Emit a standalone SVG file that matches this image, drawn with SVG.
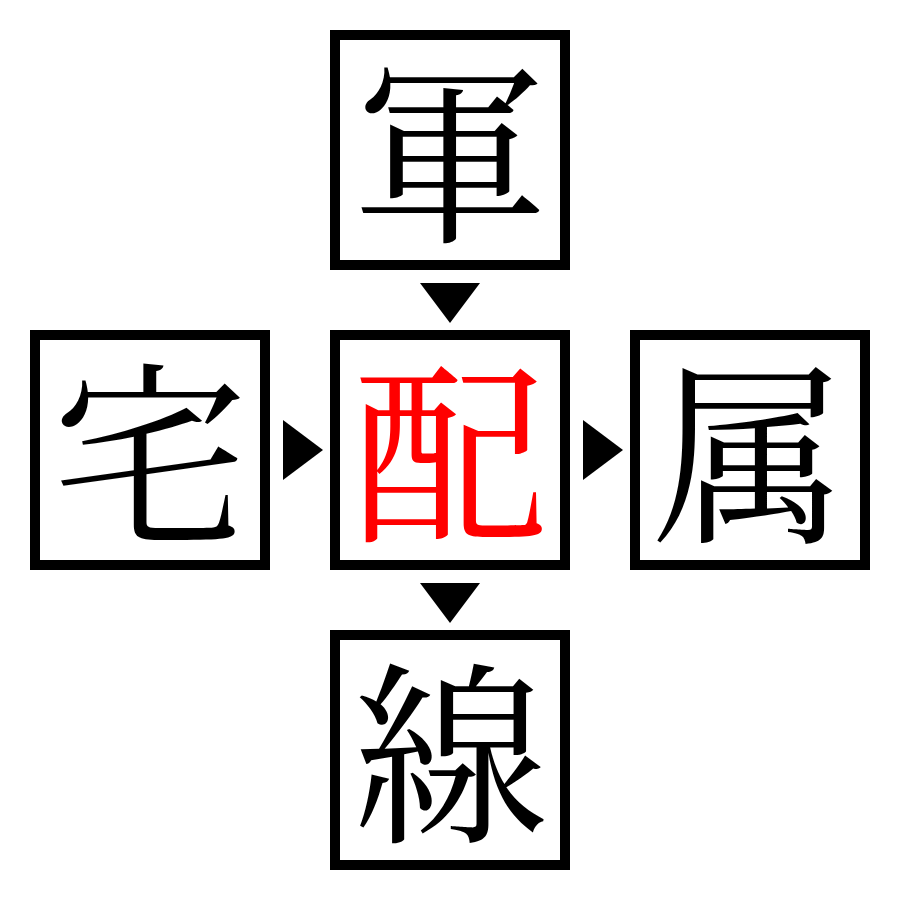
<svg xmlns="http://www.w3.org/2000/svg" width="900" height="900" viewBox="0 0 900 900">
<style>
.box{fill:#fff;stroke:#000;stroke-width:10}
.ch{font-family:"Noto Serif CJK JP","Noto Sans CJK JP",serif;font-size:195px;text-anchor:middle;dominant-baseline:central;fill:#000}
.red{fill:#ff0000}
.arr{fill:#000}
</style>
<rect width="900" height="900" fill="#fff"/>
<g id="connectors">
<polygon class="arr" points="420,283 480,283 450,323"/>
<polygon class="arr" points="283,420 283,480 323,450"/>
<polygon class="arr" points="583,420 583,480 623,450"/>
<polygon class="arr" points="420,583 480,583 450,623"/>
</g>
<g id="top"><rect class="box" x="335" y="35" width="230" height="230"/><text class="ch" x="450" y="144">軍</text></g>
<g id="left"><rect class="box" x="35" y="335" width="230" height="230"/><text class="ch" x="150" y="444">宅</text></g>
<g id="center"><rect class="box" x="335" y="335" width="230" height="230"/><text class="ch red" x="450" y="444">配</text></g>
<g id="right"><rect class="box" x="635" y="335" width="230" height="230"/><text class="ch" x="750" y="444">属</text></g>
<g id="bottom"><rect class="box" x="335" y="635" width="230" height="230"/><text class="ch" x="450" y="744">線</text></g>
</svg>
